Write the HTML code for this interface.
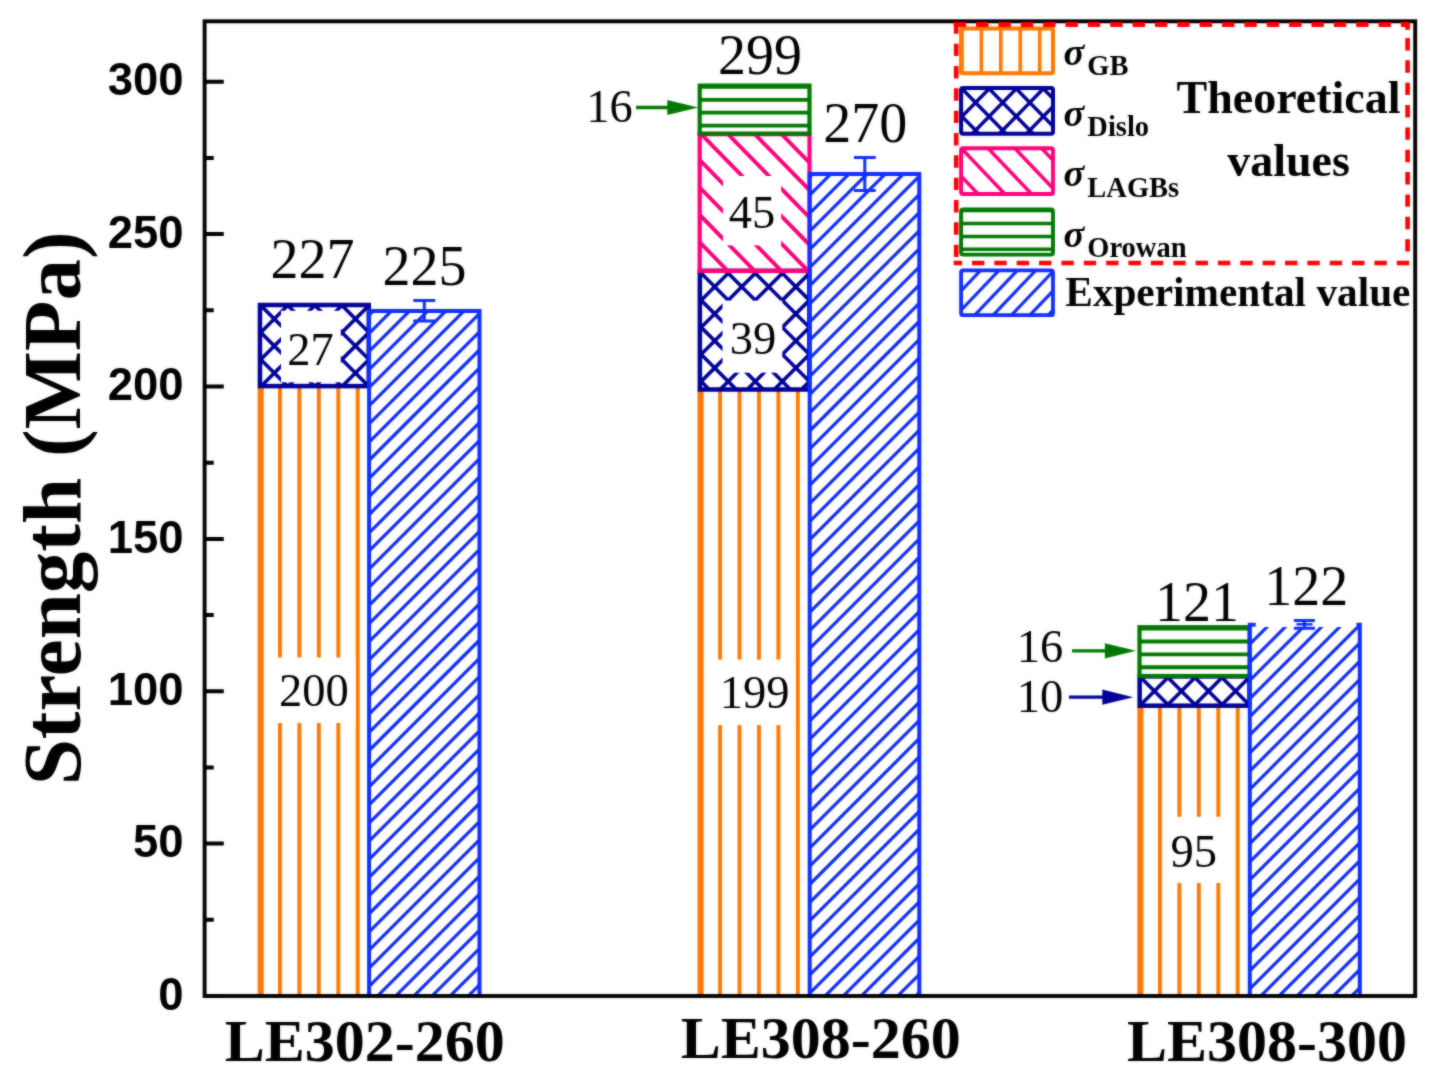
<!DOCTYPE html>
<html><head><meta charset="utf-8"><title>Strength chart</title>
<style>
html,body{margin:0;padding:0;background:#fff}
svg{display:block}
text{fill:#000}
.sr{font-family:"Liberation Serif","Times New Roman",serif}
.tb{font-family:"Liberation Serif","Times New Roman",serif;font-weight:bold;font-style:normal}
.tbi{font-family:"Liberation Serif","Times New Roman",serif;font-weight:bold;font-style:italic}
.sb{font-family:"Liberation Sans",Arial,sans-serif;font-weight:bold}
</style></head><body>
<svg width="1431" height="1084" viewBox="0 0 1431 1084">
<defs><filter id="soft" color-interpolation-filters="sRGB" x="0" y="0" width="1431" height="1084" filterUnits="userSpaceOnUse"><feGaussianBlur stdDeviation="0.9" result="b"/><feComposite in="SourceGraphic" in2="b" operator="arithmetic" k1="0" k2="0.5" k3="0.5" k4="0"/></filter><clipPath id="c1"><rect x="260.7" y="386.1" width="107.3" height="609.9"/></clipPath>
<clipPath id="c2"><rect x="259.95" y="305" width="108.8" height="81.1"/></clipPath>
<clipPath id="c3"><rect x="369.1" y="310.9" width="110.4" height="685.1"/></clipPath>
<clipPath id="c4"><rect x="700.6" y="389.5" width="108" height="606.5"/></clipPath>
<clipPath id="c5"><rect x="699.85" y="270.85" width="109.5" height="118.65"/></clipPath>
<clipPath id="c6"><rect x="699.7" y="134.2" width="109.8" height="136.65"/></clipPath>
<clipPath id="c7"><rect x="699.7" y="85.6" width="109.8" height="48"/></clipPath>
<clipPath id="c8"><rect x="809.7" y="174" width="109.6" height="822"/></clipPath>
<clipPath id="c9"><rect x="1140.4" y="705.7" width="108.3" height="290.3"/></clipPath>
<clipPath id="c10"><rect x="1139.65" y="676.4" width="109.8" height="29.3"/></clipPath>
<clipPath id="c11"><rect x="1139.5" y="627.2" width="110.1" height="48.8"/></clipPath>
<clipPath id="c12"><rect x="1249.8" y="624.8" width="110" height="371.2"/></clipPath>
<clipPath id="c13"><rect x="961.1" y="28.6" width="91.9" height="44.7"/></clipPath>
<clipPath id="c14"><rect x="961.1" y="87.9" width="91.9" height="45.9"/></clipPath>
<clipPath id="c15"><rect x="961.1" y="148.3" width="91.9" height="45.7"/></clipPath>
<clipPath id="c16"><rect x="961.1" y="209.5" width="91.9" height="45.1"/></clipPath>
<clipPath id="c17"><rect x="961.1" y="270.4" width="91.9" height="44.8"/></clipPath></defs>
<g filter="url(#soft)">
<rect width="1431" height="1084" fill="#fff"/>
<path clip-path="url(#c1)" d="M279.95 386.1V996M299.4 386.1V996M318.85 386.1V996M338.3 386.1V996M357.75 386.1V996" stroke="#FF7800" stroke-width="3.9" fill="none"/>
<path d="M260.7 996V386.1" stroke="#FF7800" stroke-width="6" fill="none"/>
<path clip-path="url(#c2)" d="M254.95 311.2L373.75 192.4M254.95 338.25L373.75 219.45M254.95 365.3L373.75 246.5M254.95 392.35L373.75 273.55M254.95 419.4L373.75 300.6M254.95 446.45L373.75 327.65M254.95 473.5L373.75 354.7M254.95 191.35L373.75 310.15M254.95 218.4L373.75 337.2M254.95 245.45L373.75 364.25M254.95 272.5L373.75 391.3M254.95 299.55L373.75 418.35M254.95 326.6L373.75 445.4M254.95 353.65L373.75 472.45M254.95 380.7L373.75 499.5" stroke="#000096" stroke-width="3.6" fill="none"/>
<rect x="259.95" y="305" width="108.8" height="81.1" fill="none" stroke="#000096" stroke-width="4.5"/>
<path clip-path="url(#c3)" d="M364.1 320.16L484.5 199.76M364.1 338.3L484.5 217.9M364.1 356.44L484.5 236.04M364.1 374.58L484.5 254.18M364.1 392.72L484.5 272.32M364.1 410.86L484.5 290.46M364.1 429L484.5 308.6M364.1 447.14L484.5 326.74M364.1 465.28L484.5 344.88M364.1 483.42L484.5 363.02M364.1 501.56L484.5 381.16M364.1 519.7L484.5 399.3M364.1 537.84L484.5 417.44M364.1 555.98L484.5 435.58M364.1 574.12L484.5 453.72M364.1 592.26L484.5 471.86M364.1 610.4L484.5 490M364.1 628.54L484.5 508.14M364.1 646.68L484.5 526.28M364.1 664.82L484.5 544.42M364.1 682.96L484.5 562.56M364.1 701.1L484.5 580.7M364.1 719.24L484.5 598.84M364.1 737.38L484.5 616.98M364.1 755.52L484.5 635.12M364.1 773.66L484.5 653.26M364.1 791.8L484.5 671.4M364.1 809.94L484.5 689.54M364.1 828.08L484.5 707.68M364.1 846.22L484.5 725.82M364.1 864.36L484.5 743.96M364.1 882.5L484.5 762.1M364.1 900.64L484.5 780.24M364.1 918.78L484.5 798.38M364.1 936.92L484.5 816.52M364.1 955.06L484.5 834.66M364.1 973.2L484.5 852.8M364.1 991.34L484.5 870.94M364.1 1009.48L484.5 889.08M364.1 1027.62L484.5 907.22M364.1 1045.76L484.5 925.36M364.1 1063.9L484.5 943.5M364.1 1082.04L484.5 961.64M364.1 1100.18L484.5 979.78" stroke="#0F2DFF" stroke-width="3.2" fill="none"/>
<path d="M369.1 996V310.9H479.5V996" stroke="#0F2DFF" stroke-width="4" fill="none"/>
<path clip-path="url(#c4)" d="M720.05 389.5V996M739.5 389.5V996M758.95 389.5V996M778.4 389.5V996M797.85 389.5V996" stroke="#FF7800" stroke-width="3.9" fill="none"/>
<path d="M700.6 996V389.5" stroke="#FF7800" stroke-width="6" fill="none"/>
<path clip-path="url(#c5)" d="M694.85 279.55L814.35 160.05M694.85 306.6L814.35 187.1M694.85 333.65L814.35 214.15M694.85 360.7L814.35 241.2M694.85 387.75L814.35 268.25M694.85 414.8L814.35 295.3M694.85 441.85L814.35 322.35M694.85 468.9L814.35 349.4M694.85 495.95L814.35 376.45M694.85 158.7L814.35 278.2M694.85 185.75L814.35 305.25M694.85 212.8L814.35 332.3M694.85 239.85L814.35 359.35M694.85 266.9L814.35 386.4M694.85 293.95L814.35 413.45M694.85 321L814.35 440.5M694.85 348.05L814.35 467.55M694.85 375.1L814.35 494.6" stroke="#000096" stroke-width="3.6" fill="none"/>
<rect x="699.85" y="270.85" width="109.5" height="118.65" fill="none" stroke="#000096" stroke-width="4.5"/>
<path clip-path="url(#c6)" d="M694.7 17.91L814.5 140.4M694.7 45.31L814.5 167.8M694.7 72.71L814.5 195.2M694.7 100.11L814.5 222.6M694.7 127.51L814.5 250M694.7 154.91L814.5 277.4M694.7 182.31L814.5 304.8M694.7 209.71L814.5 332.2M694.7 237.11L814.5 359.6M694.7 264.51L814.5 387" stroke="#FF0078" stroke-width="3.9" fill="none"/>
<rect x="699.7" y="134.2" width="109.8" height="136.65" fill="none" stroke="#FF0078" stroke-width="4.2"/>
<path clip-path="url(#c7)" d="M699.7 86.9H809.5M699.7 99.78H809.5M699.7 112.66H809.5M699.7 125.54H809.5" stroke="#007800" stroke-width="3.8" fill="none"/>
<rect x="699.7" y="85.6" width="109.8" height="48" fill="none" stroke="#007800" stroke-width="4.2"/>
<path clip-path="url(#c8)" d="M804.7 181.96L924.3 62.36M804.7 200.1L924.3 80.5M804.7 218.24L924.3 98.64M804.7 236.38L924.3 116.78M804.7 254.52L924.3 134.92M804.7 272.66L924.3 153.06M804.7 290.8L924.3 171.2M804.7 308.94L924.3 189.34M804.7 327.08L924.3 207.48M804.7 345.22L924.3 225.62M804.7 363.36L924.3 243.76M804.7 381.5L924.3 261.9M804.7 399.64L924.3 280.04M804.7 417.78L924.3 298.18M804.7 435.92L924.3 316.32M804.7 454.06L924.3 334.46M804.7 472.2L924.3 352.6M804.7 490.34L924.3 370.74M804.7 508.48L924.3 388.88M804.7 526.62L924.3 407.02M804.7 544.76L924.3 425.16M804.7 562.9L924.3 443.3M804.7 581.04L924.3 461.44M804.7 599.18L924.3 479.58M804.7 617.32L924.3 497.72M804.7 635.46L924.3 515.86M804.7 653.6L924.3 534M804.7 671.74L924.3 552.14M804.7 689.88L924.3 570.28M804.7 708.02L924.3 588.42M804.7 726.16L924.3 606.56M804.7 744.3L924.3 624.7M804.7 762.44L924.3 642.84M804.7 780.58L924.3 660.98M804.7 798.72L924.3 679.12M804.7 816.86L924.3 697.26M804.7 835L924.3 715.4M804.7 853.14L924.3 733.54M804.7 871.28L924.3 751.68M804.7 889.42L924.3 769.82M804.7 907.56L924.3 787.96M804.7 925.7L924.3 806.1M804.7 943.84L924.3 824.24M804.7 961.98L924.3 842.38M804.7 980.12L924.3 860.52M804.7 998.26L924.3 878.66M804.7 1016.4L924.3 896.8M804.7 1034.54L924.3 914.94M804.7 1052.68L924.3 933.08M804.7 1070.82L924.3 951.22M804.7 1088.96L924.3 969.36M804.7 1107.1L924.3 987.5" stroke="#0F2DFF" stroke-width="3.2" fill="none"/>
<path d="M809.7 996V174H919.3V996" stroke="#0F2DFF" stroke-width="4" fill="none"/>
<path clip-path="url(#c9)" d="M1140.5 705.7V996M1159.95 705.7V996M1179.4 705.7V996M1198.85 705.7V996M1218.3 705.7V996M1237.75 705.7V996" stroke="#FF7800" stroke-width="3.9" fill="none"/>
<path d="M1140.4 996V705.7" stroke="#FF7800" stroke-width="6" fill="none"/>
<path clip-path="url(#c10)" d="M1134.65 683.8L1254.45 564M1134.65 710.85L1254.45 591.05M1134.65 737.9L1254.45 618.1M1134.65 764.95L1254.45 645.15M1134.65 792L1254.45 672.2M1134.65 819.05L1254.45 699.25M1134.65 563.15L1254.45 682.95M1134.65 590.2L1254.45 710M1134.65 617.25L1254.45 737.05M1134.65 644.3L1254.45 764.1M1134.65 671.35L1254.45 791.15M1134.65 698.4L1254.45 818.2" stroke="#000096" stroke-width="3.6" fill="none"/>
<rect x="1139.65" y="676.4" width="109.8" height="29.3" fill="none" stroke="#000096" stroke-width="4.5"/>
<path clip-path="url(#c11)" d="M1139.5 628.6H1249.6M1139.5 641.48H1249.6M1139.5 654.36H1249.6M1139.5 667.24H1249.6" stroke="#007800" stroke-width="3.8" fill="none"/>
<rect x="1139.5" y="627.2" width="110.1" height="48.8" fill="none" stroke="#007800" stroke-width="4.2"/>
<path clip-path="url(#c12)" d="M1244.8 631.08L1364.8 511.08M1244.8 649.22L1364.8 529.22M1244.8 667.36L1364.8 547.36M1244.8 685.5L1364.8 565.5M1244.8 703.64L1364.8 583.64M1244.8 721.78L1364.8 601.78M1244.8 739.92L1364.8 619.92M1244.8 758.06L1364.8 638.06M1244.8 776.2L1364.8 656.2M1244.8 794.34L1364.8 674.34M1244.8 812.48L1364.8 692.48M1244.8 830.62L1364.8 710.62M1244.8 848.76L1364.8 728.76M1244.8 866.9L1364.8 746.9M1244.8 885.04L1364.8 765.04M1244.8 903.18L1364.8 783.18M1244.8 921.32L1364.8 801.32M1244.8 939.46L1364.8 819.46M1244.8 957.6L1364.8 837.6M1244.8 975.74L1364.8 855.74M1244.8 993.88L1364.8 873.88M1244.8 1012.02L1364.8 892.02M1244.8 1030.16L1364.8 910.16M1244.8 1048.3L1364.8 928.3M1244.8 1066.44L1364.8 946.44M1244.8 1084.58L1364.8 964.58M1244.8 1102.72L1364.8 982.72" stroke="#0F2DFF" stroke-width="3.2" fill="none"/>
<path d="M1249.8 996V624.8H1359.8V996" stroke="#0F2DFF" stroke-width="4" fill="none"/>
<rect x="281" y="310.8" width="59.8" height="71.5" fill="#fff"/>
<text x="310.6" y="364.6" font-size="46.5" text-anchor="middle" class="sr">27</text>
<rect x="272" y="657.5" width="83.5" height="65.5" fill="#fff"/>
<text x="313.75" y="706.25" font-size="46.5" text-anchor="middle" class="sr">200</text>
<rect x="723" y="176" width="58.2" height="69.4" fill="#fff"/>
<text x="751.9" y="227.5" font-size="46.5" text-anchor="middle" class="sr">45</text>
<rect x="722.5" y="300.6" width="59.8" height="72.1" fill="#fff"/>
<text x="753" y="353.7" font-size="46.5" text-anchor="middle" class="sr">39</text>
<rect x="716" y="659.6" width="79.5" height="65.5" fill="#fff"/>
<text x="754.5" y="707.5" font-size="46.5" text-anchor="middle" class="sr">199</text>
<rect x="1164.8" y="816.8" width="57.9" height="66.2" fill="#fff"/>
<text x="1193.7" y="867" font-size="46.5" text-anchor="middle" class="sr">95</text>
<rect x="1255.7" y="560" width="100.7" height="67" fill="#fff"/>
<text x="312.4" y="278.3" font-size="56" text-anchor="middle" class="sr">227</text>
<text x="424.6" y="285.4" font-size="56" text-anchor="middle" class="sr">225</text>
<text x="760" y="73.5" font-size="56" text-anchor="middle" class="sr">299</text>
<text x="865.2" y="142.3" font-size="56" text-anchor="middle" class="sr">270</text>
<text x="1197" y="620.7" font-size="56" text-anchor="middle" class="sr">121</text>
<text x="1306.3" y="605" font-size="56" text-anchor="middle" class="sr">122</text>
<text x="609.5" y="121.5" font-size="46.5" text-anchor="middle" class="sr">16</text>
<text x="1040" y="662" font-size="46.5" text-anchor="middle" class="sr">16</text>
<text x="1040" y="712" font-size="46.5" text-anchor="middle" class="sr">10</text>
<path d="M636 107.5H678.3" stroke="#007800" stroke-width="3.3" fill="none"/>
<path d="M698.3 107.5L667.3 99.9L667.3 115.1Z" fill="#007800"/>
<path d="M1072 650.8H1115.9" stroke="#007800" stroke-width="3.3" fill="none"/>
<path d="M1135.9 650.8L1104.9 643.2L1104.9 658.4Z" fill="#007800"/>
<path d="M1069 697.2H1113.3" stroke="#000096" stroke-width="3.3" fill="none"/>
<path d="M1133.3 697.2L1102.3 689.6L1102.3 704.8Z" fill="#000096"/>
<path d="M424.3 300.5V321.1M413.3 300.5H435.3M413.3 321.1H435.3" stroke="#0F2DFF" stroke-width="3" fill="none"/>
<path d="M864.8 157.5V190.5M853.9 157.5H875.7M853.9 190.5H875.7" stroke="#0F2DFF" stroke-width="3" fill="none"/>
<path d="M1304.4 620.4V628.2M1293.9 620.4H1314.9M1293.9 628.2H1314.9" stroke="#0F2DFF" stroke-width="3" fill="none"/>
<path d="M1296.5 624.3H1312.5" stroke="#0F2DFF" stroke-width="2.4"/>
<path clip-path="url(#c13)" d="M961.97 28.6V73.3M981.4 28.6V73.3M1000.83 28.6V73.3M1020.26 28.6V73.3M1039.69 28.6V73.3" stroke="#FF7800" stroke-width="3.6" fill="none"/>
<rect x="961.1" y="28.6" width="91.9" height="44.7" fill="none" stroke="#FF7800" stroke-width="4" rx="2" ry="2"/>
<path clip-path="url(#c14)" d="M956.1 94.83L1058 -9.32M956.1 122.53L1058 18.38M956.1 150.23L1058 46.08M956.1 177.93L1058 73.78M956.1 205.63L1058 101.48M956.1 -0.43L1058 103.72M956.1 27.27L1058 131.42M956.1 54.97L1058 159.12M956.1 82.67L1058 186.82M956.1 110.37L1058 214.52" stroke="#000096" stroke-width="3.5" fill="none"/>
<rect x="961.1" y="87.9" width="91.9" height="45.9" fill="none" stroke="#000096" stroke-width="4" rx="2" ry="2"/>
<path clip-path="url(#c15)" d="M956.1 58.52L1058 165.52M956.1 86.62L1058 193.62M956.1 114.72L1058 221.72M956.1 142.82L1058 249.82M956.1 170.92L1058 277.92" stroke="#FF0078" stroke-width="3.5" fill="none"/>
<rect x="961.1" y="148.3" width="91.9" height="45.7" fill="none" stroke="#FF0078" stroke-width="3.9" rx="2" ry="2"/>
<path clip-path="url(#c16)" d="M961.1 210.6H1053M961.1 223.5H1053M961.1 236.4H1053M961.1 249.3H1053" stroke="#007800" stroke-width="3.5" fill="none"/>
<rect x="961.1" y="209.5" width="91.9" height="45.1" fill="none" stroke="#007800" stroke-width="3.9" rx="2" ry="2"/>
<path clip-path="url(#c17)" d="M956.1 276.79L1058 169.8M956.1 296.09L1058 189.1M956.1 315.39L1058 208.4M956.1 334.69L1058 227.7M956.1 353.99L1058 247M956.1 373.29L1058 266.3M956.1 392.59L1058 285.6M956.1 411.89L1058 304.9" stroke="#0F2DFF" stroke-width="3.2" fill="none"/>
<rect x="961.1" y="270.4" width="91.9" height="44.8" fill="none" stroke="#0F2DFF" stroke-width="3.8" rx="2" ry="2"/>
<path d="M204.6 996H223.75M204.6 919.81H213.75M204.6 843.62H223.75M204.6 767.44H213.75M204.6 691.25H223.75M204.6 615.06H213.75M204.6 538.88H223.75M204.6 462.69H213.75M204.6 386.5H223.75M204.6 310.31H213.75M204.6 234.12H223.75M204.6 157.94H213.75M204.6 81.75H223.75" stroke="#000" stroke-width="4" fill="none"/>
<rect x="204.6" y="21.3" width="1210.6" height="974.7" fill="none" stroke="#000" stroke-width="3.9"/>
<path d="M953.7 24.5H966.1M976.06 24.5H988.46M998.42 24.5H1010.82M1020.78 24.5H1033.18M1043.14 24.5H1055.54M1065.5 24.5H1077.9M1087.86 24.5H1100.26M1110.22 24.5H1122.62M1132.58 24.5H1144.98M1154.94 24.5H1167.34M1177.3 24.5H1189.7M1199.66 24.5H1212.06M1222.02 24.5H1234.42M1244.38 24.5H1256.78M1266.74 24.5H1279.14M1289.1 24.5H1301.5M1311.46 24.5H1323.86M1333.82 24.5H1346.22M1356.18 24.5H1368.58M1378.54 24.5H1390.94M1400.9 24.5H1409.9" stroke="#FF0000" stroke-width="4.8" fill="none"/>
<path d="M953.7 263H962M971.96 263H984.36M994.32 263H1006.72M1016.68 263H1029.08M1039.04 263H1051.44M1061.4 263H1073.8M1083.76 263H1096.16M1106.12 263H1118.52M1128.48 263H1140.88M1150.84 263H1163.24M1173.2 263H1185.6M1195.56 263H1207.96M1217.92 263H1230.32M1240.28 263H1252.68M1262.64 263H1275.04M1285 263H1297.4M1307.36 263H1319.76M1329.72 263H1342.12M1352.08 263H1364.48M1374.44 263H1386.84M1396.8 263H1409.2" stroke="#FF0000" stroke-width="4.6" fill="none"/>
<path d="M956.2 22V33.77M956.2 43.7V56.1M956.2 66.03V78.43M956.2 88.36V100.76M956.2 110.69V123.09M956.2 133.02V145.42M956.2 155.35V167.75M956.2 177.68V190.08M956.2 200.01V212.41M956.2 222.34V234.74M956.2 244.67V257.07" stroke="#FF0000" stroke-width="4.6" fill="none"/>
<path d="M1407.6 22V28.05M1407.6 38V50.4M1407.6 60.35V72.75M1407.6 82.7V95.1M1407.6 105.05V117.45M1407.6 127.4V139.8M1407.6 149.75V162.15M1407.6 172.1V184.5M1407.6 194.45V206.85M1407.6 216.8V229.2M1407.6 239.15V251.55" stroke="#FF0000" stroke-width="4.6" fill="none"/>
<path d="M1407.6 22V29.8" stroke="#FF0000" stroke-width="4.6"/>
<text x="183.6" y="1009.7" font-size="45.5" text-anchor="end" class="sb">0</text>
<text x="183.6" y="857.33" font-size="45.5" text-anchor="end" class="sb">50</text>
<text x="183.6" y="704.95" font-size="45.5" text-anchor="end" class="sb">100</text>
<text x="183.6" y="552.58" font-size="45.5" text-anchor="end" class="sb">150</text>
<text x="183.6" y="400.2" font-size="45.5" text-anchor="end" class="sb">200</text>
<text x="183.6" y="247.82" font-size="45.5" text-anchor="end" class="sb">250</text>
<text x="183.6" y="95.45" font-size="45.5" text-anchor="end" class="sb">300</text>
<text x="364.85" y="1060.7" font-size="60" text-anchor="middle" class="tb">LE302-260</text>
<text x="820.75" y="1058" font-size="60" text-anchor="middle" class="tb">LE308-260</text>
<text x="1267.05" y="1060.7" font-size="60" text-anchor="middle" class="tb">LE308-300</text>
<text transform="translate(80 508.3) rotate(-90)" font-size="83" text-anchor="middle" class="tb">Strength (MPa)</text>
<text x="1063.6" y="64.8" class="tbi" font-size="38.5">σ</text>
<text x="1087.3" y="75.4" class="tb" font-size="28.5">GB</text>
<text x="1063.6" y="125.6" class="tbi" font-size="38.5">σ</text>
<text x="1087.3" y="136.2" class="tb" font-size="28.5">Dislo</text>
<text x="1063.6" y="186.2" class="tbi" font-size="38.5">σ</text>
<text x="1087.3" y="196.8" class="tb" font-size="28.5">LAGBs</text>
<text x="1063.6" y="246.7" class="tbi" font-size="38.5">σ</text>
<text x="1087.3" y="257.3" class="tb" font-size="28.5">Orowan</text>
<text x="1065.2" y="306" font-size="41.3" text-anchor="start" class="tb">Experimental value</text>
<text x="1288.5" y="112.8" font-size="46" text-anchor="middle" class="tb">Theoretical</text>
<text x="1288.6" y="175.7" font-size="46" text-anchor="middle" class="tb">values</text>
</g>
</svg>
</body></html>
